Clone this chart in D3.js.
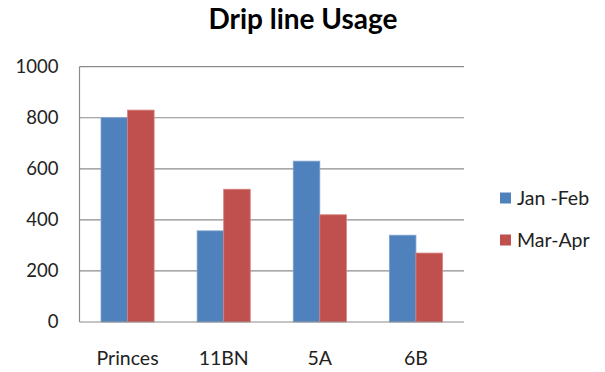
<!DOCTYPE html>
<html><head><meta charset="utf-8">
<script src="https://cdn.jsdelivr.net/npm/d3@7"></script>
<style>body{margin:0;background:#fff;} svg{display:block;font-family:Lato, "Open Sans", sans-serif;}</style>
</head><body>
<svg id="c" width="605" height="372"></svg>
<script>
const categories = ["Princes", "11BN", "5A", "6B"];
const seriesNames = ["Jan -Feb", "Mar-Apr"];
const janFeb = [800, 357, 630, 340];
const marApr = [830, 520, 420, 270];
const yTicks = [0, 200, 400, 600, 800, 1000];
const colors = ["#4F81BD", "#C0504D"];
const strokes = ["#7DA1CF", "#D6807E"];

const svg = d3.select("#c");
const m = {left: 79.5, right: 464, top: 66.7, bottom: 322};
const x = d3.scaleBand().domain(categories).range([m.left, m.right]).paddingInner(0).paddingOuter(0);
const y = d3.scaleLinear().domain([0, 1000]).range([m.bottom, m.top]);
const inner = d3.scaleBand().domain([0, 1]).range([0, x.bandwidth()]).paddingOuter(0.81).paddingInner(0);

// gridlines
svg.append("g").selectAll("line").data(yTicks.filter(d => d > 0)).join("line")
  .attr("x1", m.left).attr("x2", m.right)
  .attr("y1", d => y(d)).attr("y2", d => y(d))
  .attr("stroke", "#8c8c8c").attr("stroke-width", 1.2);

// y axis labels
const yAxis = d3.axisLeft(y).tickValues(yTicks).tickSize(0).tickPadding(21).tickFormat(d3.format("d"));
const ga = svg.append("g").attr("transform", `translate(${m.left},0)`).call(yAxis);
ga.select(".domain").remove();
ga.selectAll("text").attr("font-size", 18.5).attr("fill", "#222").attr("font-family", "Lato, sans-serif");

// bars
const series = [janFeb, marApr];
series.forEach((vals, si) => {
  svg.append("g").selectAll("rect").data(vals).join("rect")
    .attr("x", (d, i) => x(categories[i]) + inner(si))
    .attr("width", inner.bandwidth())
    .attr("y", d => y(d))
    .attr("height", d => y(0) - y(d))
    .attr("fill", colors[si])
    .attr("stroke", strokes[si]).attr("stroke-width", 0.8);
});

// axis lines
svg.append("line").attr("x1", m.left).attr("x2", m.left).attr("y1", m.top).attr("y2", m.bottom)
  .attr("stroke", "#8c8c8c").attr("stroke-width", 1.2);
svg.append("line").attr("x1", m.left).attr("x2", m.right).attr("y1", m.bottom).attr("y2", m.bottom)
  .attr("stroke", "#8c8c8c").attr("stroke-width", 1.2);

// x labels
const xAxis = d3.axisBottom(x).tickSize(0).tickPadding(29);
const gx = svg.append("g").attr("transform", `translate(0,${m.bottom})`).call(xAxis);
gx.select(".domain").remove();
gx.selectAll("text").attr("font-size", 19.5).attr("fill", "#222").attr("font-family", "Lato, sans-serif");

// title
svg.append("text").attr("x", 303).attr("y", 29).attr("text-anchor", "middle")
  .attr("font-size", 28).attr("font-weight", "bold").attr("fill", "#000").text("Drip line Usage");

// legend
const lg = svg.append("g");
seriesNames.forEach((n, i) => {
  const cy = 198 + i * 42;
  lg.append("rect").attr("x", 500).attr("y", cy - 5.5).attr("width", 11).attr("height", 11).attr("fill", colors[i]);
  lg.append("text").attr("x", 517).attr("y", cy).attr("dy", "0.35em").attr("font-size", 19.5)
    .attr("fill", "#222").text(n);
});
</script>
</body></html>
